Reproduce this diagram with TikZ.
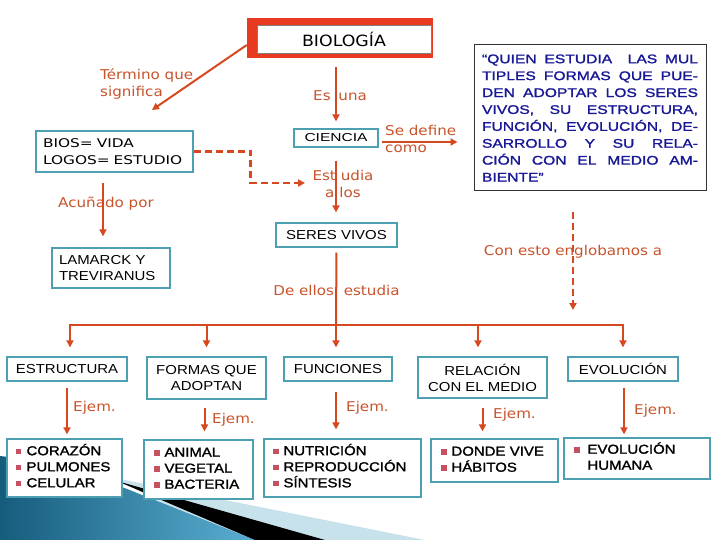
\documentclass[tikz,border=0pt]{standalone}
\usepackage{fontspec}
\usetikzlibrary{arrows.meta}
\setmainfont{DejaVu Sans}
\newfontfamily\lab{DejaVu Sans}[FakeStretch=1.12]
\newfontfamily\bx{Liberation Sans}[FakeStretch=1.15]
\newfontfamily\bxb{Liberation Sans}[FakeStretch=1.15,FakeBold=1.5]
\newfontfamily\bxw{Liberation Sans}[FakeStretch=1.35]
\newfontfamily\vw{DejaVu Sans}[FakeStretch=1.28]
\newfontfamily\qf{Liberation Sans}[FakeStretch=1.25,FakeBold=1.5]
\definecolor{lc}{RGB}{214,72,32}
\definecolor{tc}{RGB}{200,84,44}
\definecolor{bc}{RGB}{76,160,178}
\definecolor{qc}{RGB}{24,24,150}
\definecolor{bulc}{RGB}{196,80,96}
\definecolor{redb}{RGB}{232,58,32}
\definecolor{tealA}{RGB}{22,92,125}
\definecolor{tealB}{RGB}{90,175,210}
\definecolor{lightb}{RGB}{200,226,236}
\newcommand\bul{\raisebox{1pt}{\textcolor{bulc}{\rule{5.5pt}{5.5pt}}}}
\newcommand\itm[1]{\begin{tabular}{@{}l@{\hspace{5pt}}l@{}}#1\end{tabular}}
\begin{document}
\begin{tikzpicture}[x=1pt,y=-1pt,
 box/.style={draw=bc,line width=1.3pt,fill=white,inner sep=0pt,font=\bx\fontsize{13}{16.5}\selectfont,align=center},
 itembox/.style={box,align=left,font=\bxb\fontsize{13}{16}\selectfont},
 lbl/.style={text=tc,font=\lab\fontsize{13.5}{16.5}\selectfont,inner sep=0pt},
 conn/.style={draw=lc,line width=2pt},
 arr/.style={conn,-{Triangle[length=7pt,width=7pt]}},
 dsh/.style={arr,dash pattern=on 7pt off 4pt,line width=2.4pt}
]
\useasboundingbox (0,0) rectangle (720,540);
\fill[white] (0,0) rectangle (720,540);
% background swoosh
\fill[lightb] (115,478) -- (425,540) -- (230,540) -- cycle;
\shade[left color=tealA,right color=tealB] (0,456) .. controls (50,462) and (90,473) .. (117,485) -- (255,540) -- (0,540) -- cycle;
\fill[black] (117,481) -- (325,540) -- (255,540) -- cycle;

% title
\node[fill=redb,minimum width=186pt,minimum height=40pt,inner sep=0pt] (bio) at (340,38) {};
\node[fill=white,draw=gray,line width=0.6pt,minimum width=174pt,minimum height=28pt,inner sep=0pt,font=\lab\fontsize{15.5}{18}\selectfont] (biot) at (344,39) {BIOLOGÍA};

% quote
\node[draw=black!80,line width=1pt,fill=white,minimum height=146pt,text width=216pt,align=justify,inner xsep=8pt,inner ysep=0pt,text=qc,font=\qf\fontsize{12.5}{16.9}\selectfont] (quote) at (590,118) {\tolerance=10000 \hyphenpenalty=10000 “QUIEN ESTUDIA\ \ LAS MUL\linebreak TIPLES FORMAS QUE PUE-\linebreak DEN ADOPTAR LOS SERES\linebreak VIVOS, SU ESTRUCTURA,\linebreak FUNCIÓN, EVOLUCIÓN, DE-\linebreak SARROLLO Y SU RELA-\linebreak CIÓN CON EL MEDIO AM-\linebreak BIENTE”};

% boxes
\node[box,font=\vw\fontsize{12}{17}\selectfont,minimum height=41pt,text width=143pt,inner xsep=7pt,align=left] (bios) at (114.5,151.5) {BIOS= VIDA\\LOGOS= ESTUDIO};
\node[box,font=\bxw\fontsize{11.5}{14}\selectfont,minimum width=84pt,minimum height=18pt] (ciencia) at (336,138) {CIENCIA};
\node[box,minimum width=121pt,minimum height=24pt] (seres) at (336.5,235) {SERES VIVOS};
\node[box,font=\bx\fontsize{13}{15.5}\selectfont,minimum height=40pt,text width=104pt,inner xsep=7pt,align=left] (lam) at (111,268) {LAMARCK Y\\TREVIRANUS};

\node[box,minimum width=120pt,minimum height=24pt] (estr) at (67,369) {ESTRUCTURA};
\node[box,minimum width=119pt,minimum height=42pt] (formas) at (206.5,378) {FORMAS QUE\\ADOPTAN};
\node[box,minimum width=108pt,minimum height=24pt] (func) at (338,369) {FUNCIONES};
\node[box,font=\bx\fontsize{13}{16}\selectfont,minimum width=129pt,minimum height=41pt] (rel) at (482.5,377.5) {RELACIÓN\\CON EL MEDIO};
\node[box,minimum width=110pt,minimum height=24pt] (evol) at (623,369) {EVOLUCIÓN};

\node[itembox,minimum height=58pt,text width=97pt,inner xsep=9pt] (i1) at (64.5,468) {\itm{\bul & CORAZÓN\\ \bul & PULMONES\\ \bul & CELULAR}};
\node[itembox,minimum height=59pt,text width=89pt,inner xsep=10pt] (i2) at (198.5,469.5) {\itm{\bul & ANIMAL\\ \bul & VEGETAL\\ \bul & BACTERIA}};
\node[itembox,minimum height=58pt,text width=139pt,inner xsep=9pt] (i3) at (342.5,468) {\itm{\bul & NUTRICIÓN\\ \bul & REPRODUCCIÓN\\ \bul & SÍNTESIS}};
\node[itembox,minimum height=43pt,text width=107pt,inner xsep=10pt] (i4) at (494.5,460.5) {\itm{\bul & DONDE VIVE\\ \bul & HÁBITOS}};
\node[itembox,minimum height=41pt,text width=126pt,inner xsep=10pt] (i5) at (637,458.5) {\begin{tabular}{@{}l@{\hspace{8pt}}l@{}}\bul & EVOLUCIÓN\\ & HUMANA\end{tabular}};

% labels
\node[lbl,anchor=west,align=left] (tq) at (100,84) {Término que\\significa};
\node[lbl,anchor=west] (esuna) at (313,96) {Es\hspace{3pt} una};
\node[lbl,anchor=west,align=left] (sdef) at (385,139) {Se define\\como};
\node[lbl,align=center] (estu) at (343,184) {Est\hspace{5pt}udia\\a\hspace{5pt}los};
\node[lbl] (acu) at (106,204) {Acuñado por};
\node[lbl] (deel) at (336.5,290) {De ellos\hspace{5pt} estudia};
\node[lbl] (con) at (573,252) {Con esto englobamos a};
\node[lbl,anchor=west] (e1) at (73,408) {Ejem.};
\node[lbl,anchor=west] (e2) at (212,420) {Ejem.};
\node[lbl,anchor=west] (e3) at (346,408) {Ejem.};
\node[lbl,anchor=west] (e4) at (493,415) {Ejem.};
\node[lbl,anchor=west] (e5) at (634,411) {Ejem.};

% connectors
\coordinate (tqe) at (152,110);
\draw[arr] ([yshift=-7pt]bio.west) -- (tqe);
\draw[arr,shorten <=9pt,shorten >=7pt] (ciencia.north |- bio.south) -- (ciencia.north);
\path ([xshift=3pt,yshift=-4pt]ciencia.east) coordinate (sd1);
\draw[arr,shorten >=16pt] (sd1) -- (sd1 -| quote.west);
\draw[arr,shorten <=13pt,shorten >=10pt] (ciencia.south) -- (ciencia.south |- seres.north);
\coordinate (de) at (305,183);
\draw[dsh] (bios.east) -- ++(57,0) |- (de);
\coordinate (ac) at (103,183);
\draw[arr,shorten >=11pt] (ac) -- (ac |- lam.north);
\coordinate (q1) at (573,212);
\coordinate (q2) at (573,310);
\draw[dsh] (q1) -- (q2);

\coordinate (jn) at (336,325);
\coordinate (b1) at (70,325);
\coordinate (b4) at (478,325);
\coordinate (b5) at (623,325);
\draw[conn,shorten <=5pt] (seres.south) -- (jn);
\draw[conn,line cap=rect] (b1) -- (b5);
\draw[arr,shorten >=9pt] (b1) -- (b1 |- estr.north);
\draw[arr,shorten >=9pt] (formas.north |- jn) -- (formas.north);
\draw[arr,shorten >=9pt] (jn) -- (jn |- func.north);
\draw[arr,shorten >=9pt] (b4) -- (b4 |- rel.north);
\draw[arr,shorten >=9pt] (b5) -- (b5 |- evol.north);

\draw[arr,shorten <=6pt,shorten >=4pt] (estr.south) -- (estr.south |- i1.north);
\draw[arr,shorten <=8pt,shorten >=8pt] ([xshift=-2pt]formas.south) -- ([xshift=-2pt]formas.south |- i2.north);
\draw[arr,shorten <=10pt,shorten >=9pt] ([xshift=-2pt]func.south) -- ([xshift=-2pt]func.south |- i3.north);
\draw[arr,shorten <=9pt,shorten >=7pt] (rel.south) -- (rel.south |- i4.north);
\draw[arr,shorten <=6pt,shorten >=3pt] ([xshift=1pt]evol.south) -- ([xshift=1pt]evol.south |- i5.north);
\end{tikzpicture}
\end{document}
